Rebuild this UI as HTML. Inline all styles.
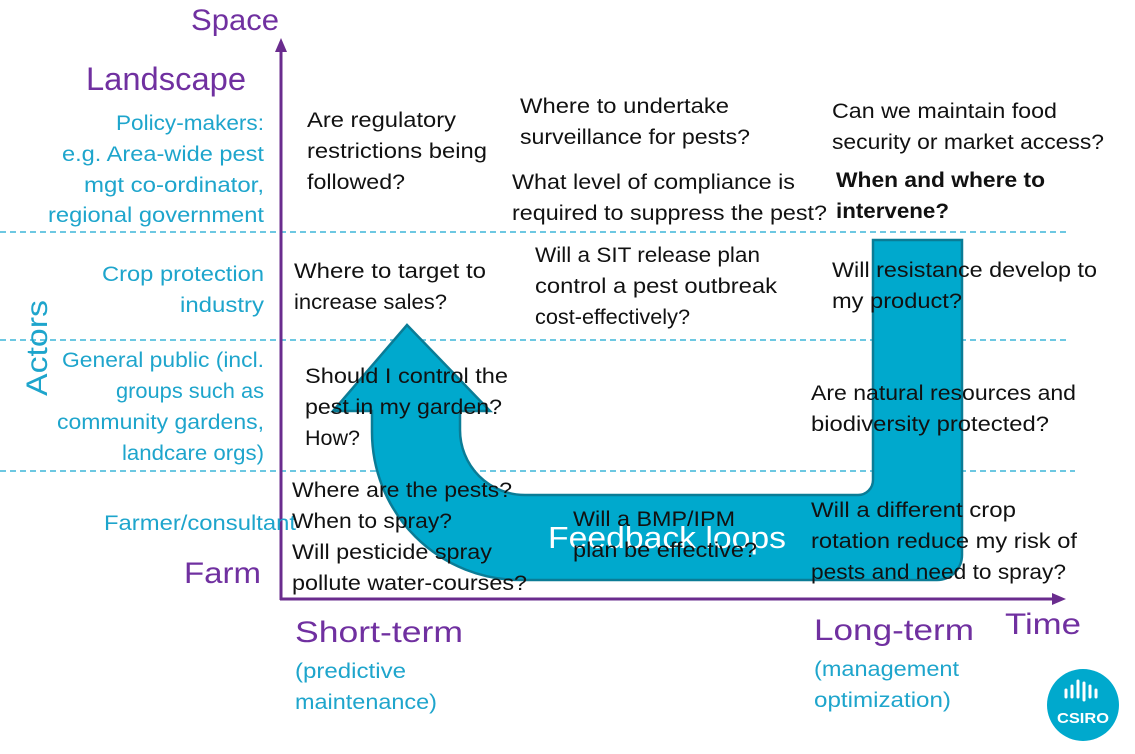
<!DOCTYPE html>
<html><head><meta charset="utf-8"><style>
html,body{margin:0;padding:0;background:#fff;width:1135px;height:754px;overflow:hidden}
svg{display:block}
text{font-family:"Liberation Sans",sans-serif}
.b{fill:#111;font-size:21px}
.c{fill:#1ea5cc;font-size:21px}
.p{fill:#7030a0;font-size:30px}
</style></head><body>
<svg width="1135" height="754" viewBox="0 0 1135 754" xmlns="http://www.w3.org/2000/svg">
<g stroke="#3db5d8" stroke-width="1.5" stroke-dasharray="6,4">
<line x1="0" y1="232" x2="1070" y2="232"/>
<line x1="0" y1="340" x2="1070" y2="340"/>
<line x1="0" y1="471" x2="1075" y2="471"/>
</g>
<path d="M407 325 L490 411 L460 411 L460 430 A65 65 0 0 0 525 495 L858 495 A15 15 0 0 0 873 480 L873 240 L962 240 L962 555 A25 25 0 0 1 937 580 L520 580 A148 148 0 0 1 372 432 L372 411 L333 411 Z" fill="#00a9cd" stroke="#0a7c96" stroke-width="2.5"/>
<g stroke="#6a2c8e" stroke-width="3" fill="#6a2c8e">
<line x1="281" y1="50" x2="281" y2="600"/>
<line x1="280" y1="599" x2="1052" y2="599"/>
</g>
<polygon points="281,38 275,52 287,52" fill="#6a2c8e"/>
<polygon points="1066,599 1052,593 1052,605" fill="#6a2c8e"/>

<g lengthAdjust="spacingAndGlyphs">
<text class="p" x="191" y="30" textLength="88" lengthAdjust="spacingAndGlyphs">Space</text>
<text class="p" x="86" y="90" style="font-size:32px" textLength="160" lengthAdjust="spacingAndGlyphs">Landscape</text>
<text class="p" x="184" y="583" textLength="77" lengthAdjust="spacingAndGlyphs">Farm</text>
<text class="p" x="295" y="642" textLength="168" lengthAdjust="spacingAndGlyphs">Short-term</text>
<text class="p" x="814" y="640" textLength="160" lengthAdjust="spacingAndGlyphs">Long-term</text>
<text class="p" x="1005" y="634" textLength="76" lengthAdjust="spacingAndGlyphs">Time</text>
<text class="c" x="295" y="678" textLength="111" lengthAdjust="spacingAndGlyphs">(predictive</text>
<text class="c" x="295" y="709" textLength="142" lengthAdjust="spacingAndGlyphs">maintenance)</text>
<text class="c" x="814" y="676" textLength="145" lengthAdjust="spacingAndGlyphs">(management</text>
<text class="c" x="814" y="707" textLength="137" lengthAdjust="spacingAndGlyphs">optimization)</text>
<text class="c" style="font-size:30px" transform="translate(47,396) rotate(-90)" textLength="96" lengthAdjust="spacingAndGlyphs">Actors</text>

<g text-anchor="end">
<text class="c" x="264" y="130" textLength="148" lengthAdjust="spacingAndGlyphs">Policy-makers:</text>
<text class="c" x="264" y="161" textLength="202" lengthAdjust="spacingAndGlyphs">e.g. Area-wide pest</text>
<text class="c" x="264" y="192" textLength="180" lengthAdjust="spacingAndGlyphs">mgt co-ordinator,</text>
<text class="c" x="264" y="222" textLength="216" lengthAdjust="spacingAndGlyphs">regional government</text>
<text class="c" x="264" y="281" textLength="162" lengthAdjust="spacingAndGlyphs">Crop protection</text>
<text class="c" x="264" y="312" textLength="84" lengthAdjust="spacingAndGlyphs">industry</text>
<text class="c" x="264" y="367" textLength="202" lengthAdjust="spacingAndGlyphs">General public (incl.</text>
<text class="c" x="264" y="398" textLength="148" lengthAdjust="spacingAndGlyphs">groups such as</text>
<text class="c" x="264" y="429" textLength="207" lengthAdjust="spacingAndGlyphs">community gardens,</text>
<text class="c" x="264" y="460" textLength="142" lengthAdjust="spacingAndGlyphs">landcare orgs)</text>
</g>
<text class="c" x="104" y="530" textLength="192" lengthAdjust="spacingAndGlyphs">Farmer/consultant</text>

<text class="b" x="307" y="127" textLength="149" lengthAdjust="spacingAndGlyphs">Are regulatory</text>
<text class="b" x="307" y="158" textLength="180" lengthAdjust="spacingAndGlyphs">restrictions being</text>
<text class="b" x="307" y="189" textLength="98" lengthAdjust="spacingAndGlyphs">followed?</text>
<text class="b" x="520" y="113" textLength="209" lengthAdjust="spacingAndGlyphs">Where to undertake</text>
<text class="b" x="520" y="144" textLength="230" lengthAdjust="spacingAndGlyphs">surveillance for pests?</text>
<text class="b" x="512" y="189" textLength="283" lengthAdjust="spacingAndGlyphs">What level of compliance is</text>
<text class="b" x="512" y="220" textLength="315" lengthAdjust="spacingAndGlyphs">required to suppress the pest?</text>
<text class="b" x="832" y="118" textLength="225" lengthAdjust="spacingAndGlyphs">Can we maintain food</text>
<text class="b" x="832" y="149" textLength="272" lengthAdjust="spacingAndGlyphs">security or market access?</text>
<text class="b" x="836" y="187" font-weight="bold" textLength="209" lengthAdjust="spacingAndGlyphs">When and where to</text>
<text class="b" x="836" y="218" font-weight="bold" textLength="113" lengthAdjust="spacingAndGlyphs">intervene?</text>
<text class="b" x="294" y="278" textLength="192" lengthAdjust="spacingAndGlyphs">Where to target to</text>
<text class="b" x="294" y="309" textLength="153" lengthAdjust="spacingAndGlyphs">increase sales?</text>
<text class="b" x="535" y="262" textLength="225" lengthAdjust="spacingAndGlyphs">Will a SIT release plan</text>
<text class="b" x="535" y="293" textLength="242" lengthAdjust="spacingAndGlyphs">control a pest outbreak</text>
<text class="b" x="535" y="324" textLength="155" lengthAdjust="spacingAndGlyphs">cost-effectively?</text>
<text class="b" x="832" y="277" textLength="265" lengthAdjust="spacingAndGlyphs">Will resistance develop to</text>
<text class="b" x="832" y="308" textLength="130" lengthAdjust="spacingAndGlyphs">my product?</text>
<text class="b" x="305" y="383" textLength="203" lengthAdjust="spacingAndGlyphs">Should I control the</text>
<text class="b" x="305" y="414" textLength="197" lengthAdjust="spacingAndGlyphs">pest in my garden?</text>
<text class="b" x="305" y="445" textLength="55" lengthAdjust="spacingAndGlyphs">How?</text>
<text class="b" x="811" y="400" textLength="265" lengthAdjust="spacingAndGlyphs">Are natural resources and</text>
<text class="b" x="811" y="431" textLength="238" lengthAdjust="spacingAndGlyphs">biodiversity protected?</text>
<text class="b" x="292" y="497" textLength="220" lengthAdjust="spacingAndGlyphs">Where are the pests?</text>
<text class="b" x="292" y="528" textLength="160" lengthAdjust="spacingAndGlyphs">When to spray?</text>
<text class="b" x="292" y="559" textLength="200" lengthAdjust="spacingAndGlyphs">Will pesticide spray</text>
<text class="b" x="292" y="590" textLength="235" lengthAdjust="spacingAndGlyphs">pollute water-courses?</text>
<text x="548" y="548" fill="#fff" style="font-size:31px" textLength="238" lengthAdjust="spacingAndGlyphs">Feedback loops</text>
<text class="b" x="573" y="526" textLength="162" lengthAdjust="spacingAndGlyphs">Will a BMP/IPM</text>
<text class="b" x="573" y="557" textLength="184" lengthAdjust="spacingAndGlyphs">plan be effective?</text>
<text class="b" x="811" y="517" textLength="205" lengthAdjust="spacingAndGlyphs">Will a different crop</text>
<text class="b" x="811" y="548" textLength="266" lengthAdjust="spacingAndGlyphs">rotation reduce my risk of</text>
<text class="b" x="811" y="579" textLength="255" lengthAdjust="spacingAndGlyphs">pests and need to spray?</text>
</g>

<circle cx="1083" cy="705" r="36" fill="#00a9cd"/>
<g stroke="#fff" stroke-width="3" stroke-linecap="round">
<line x1="1066" y1="690" x2="1066" y2="697"/>
<line x1="1072" y1="686" x2="1072" y2="697"/>
<line x1="1078" y1="681" x2="1078" y2="697"/>
<line x1="1084" y1="683" x2="1084" y2="700"/>
<line x1="1090" y1="686" x2="1090" y2="697"/>
<line x1="1096" y1="690" x2="1096" y2="697"/>
</g>
<text x="1083" y="723" fill="#fff" style="font-size:15px" font-weight="bold" text-anchor="middle" textLength="52" lengthAdjust="spacingAndGlyphs">CSIRO</text>
</svg>
</body></html>
